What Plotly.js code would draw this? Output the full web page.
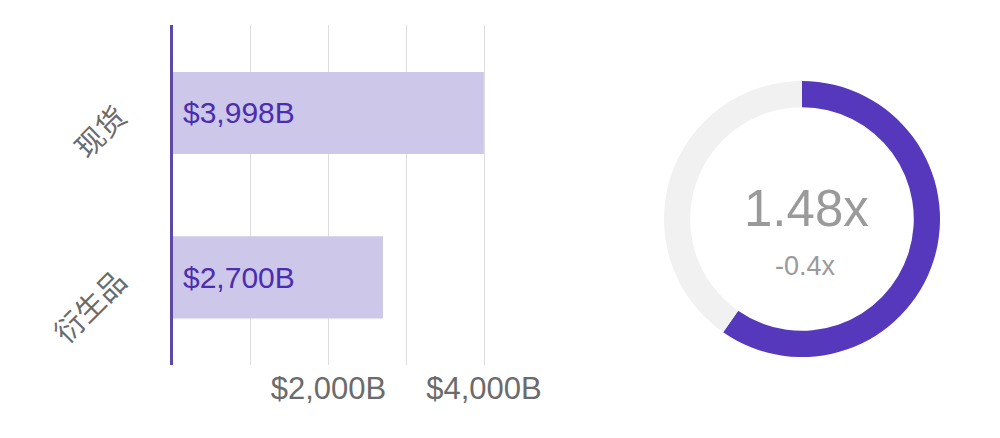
<!DOCTYPE html>
<html>
<head>
<meta charset="utf-8">
<script src="https://cdn.plot.ly/plotly-3.0.1.min.js"></script>
<style>html,body{margin:0;padding:0;background:#fff;}#chart{width:1000px;height:438px;}</style>
</head>
<body>
<div id="chart"></div>
<script>
const categories = ['现货', '衍生品'];
const volumes = [3998, 2700];
const xTickVals = [1000, 2000, 3000, 4000];
const xTickText = ['', '$2,000B', '', '$4,000B'];
const ratioValue = 1.48;
const ratioRest = 1;
const ratioLabel = '1.48x';
const ratioChange = '-0.4x';

const fmt = v => '$' + v.toLocaleString('en-US') + 'B';

const barTrace = {
  type: 'bar',
  orientation: 'h',
  y: categories,
  x: volumes,
  width: 0.5,
  marker: {color: '#cdc7e9', line: {width: 0}},
  hoverinfo: 'skip',
  xaxis: 'x', yaxis: 'y'
};

const donut = {
  type: 'pie',
  values: [ratioValue, ratioRest],
  hole: 0.81,
  sort: false,
  direction: 'clockwise',
  rotation: 0,
  marker: {colors: ['#5638bd', '#f1f1f1'], line: {width: 0}},
  textinfo: 'none',
  hoverinfo: 'skip',
  showlegend: false,
  domain: {x: [0.664, 0.940], y: [1 - 357/438, 1 - 81/438]}
};

const annotations = categories.map((c, i) => ({
  x: 0, y: c, xref: 'x', yref: 'y',
  text: fmt(volumes[i]),
  showarrow: false, xanchor: 'left', xshift: 8,
  font: {family: 'Liberation Sans, Arial, sans-serif', size: 30, color: '#4a2db0'}
}));
annotations.push({
  x: 0.806, y: 1 - 208/438, xref: 'paper', yref: 'paper',
  xanchor: 'center', yanchor: 'middle',
  text: ratioLabel, showarrow: false,
  font: {family: 'Liberation Sans, Arial, sans-serif', size: 51, color: '#9a9a9a'}
});
annotations.push({
  x: 0.805, y: 1 - 266/438, xref: 'paper', yref: 'paper',
  xanchor: 'center', yanchor: 'middle',
  text: ratioChange, showarrow: false,
  font: {family: 'Liberation Sans, Arial, sans-serif', size: 27, color: '#9a9a9a'}
});

const layout = {
  width: 1000, height: 438,
  margin: {l: 0, r: 0, t: 0, b: 0},
  paper_bgcolor: '#ffffff',
  plot_bgcolor: 'rgba(0,0,0,0)',
  showlegend: false,
  xaxis: {
    domain: [0.173, 0.51],
    range: [0, 4334],
    tickmode: 'array',
    tickvals: xTickVals,
    ticktext: xTickText,
    showgrid: true,
    gridcolor: '#dddddd',
    gridwidth: 1,
    zeroline: false,
    showline: false,
    ticks: '',
    ticklabelstandoff: 2,
    tickfont: {family: 'Liberation Sans, Arial, sans-serif', size: 31, color: '#6b6b6b'},
    fixedrange: true
  },
  yaxis: {
    domain: [1 - 365/438, 1 - 25/438],
    type: 'category',
    range: [1.532, -0.535],
    showline: true,
    linecolor: '#5a49a6',
    linewidth: 3,
    showgrid: false,
    zeroline: false,
    ticks: '',
    tickangle: -45,
    ticklabelstandoff: 46,
    tickfont: {family: 'Noto Sans CJK SC, sans-serif', size: 29, color: '#6b6b6b'},
    fixedrange: true
  },
  annotations: annotations
};

Plotly.newPlot('chart', [barTrace, donut], layout, {displayModeBar: false, staticPlot: true});
</script>
</body>
</html>
